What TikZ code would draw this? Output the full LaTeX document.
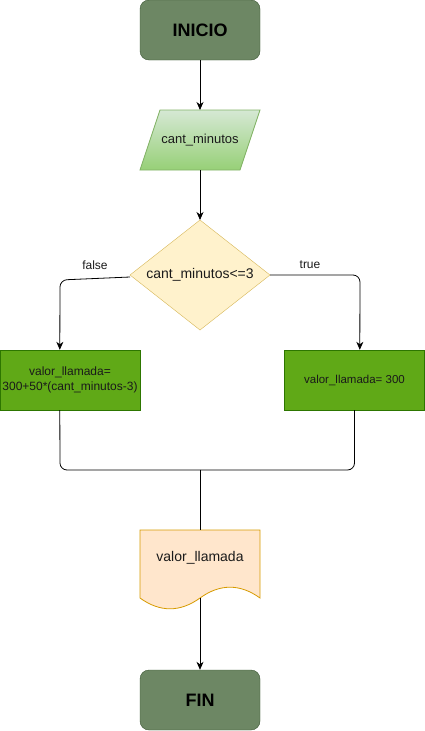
\documentclass[tikz,border=0pt]{standalone}
\usepackage{fontspec}
\setmainfont{Liberation Sans}
\usetikzlibrary{arrows.meta,shapes.geometric,calc}
\definecolor{termfill}{HTML}{6D8764}
\definecolor{termline}{HTML}{3A5431}
\definecolor{parafillA}{HTML}{D5E8D4}
\definecolor{parafillB}{HTML}{97D077}
\definecolor{paraline}{HTML}{82B366}
\definecolor{decfill}{HTML}{FFF2CC}
\definecolor{decline}{HTML}{D6B656}
\definecolor{procfill}{HTML}{60A917}
\definecolor{procline}{HTML}{2D7600}
\definecolor{docfill}{HTML}{FFE6CC}
\definecolor{docline}{HTML}{D79B00}
\definecolor{txt}{HTML}{1A1A1A}
\tikzset{
  term/.style={draw=termline, fill=termfill, rounded corners=9pt, minimum width=120pt, minimum height=60pt, inner sep=0pt, font=\fontsize{18}{20}\selectfont\bfseries, text=black},
  dec/.style={diamond, draw=decline, fill=decfill, minimum width=140pt, minimum height=110pt, inner sep=0.5pt, outer sep=0pt},
  proc/.style={rectangle, draw=procline, fill=procfill, minimum width=140pt, minimum height=60pt, inner sep=0pt, align=center, text=txt},
  edge/.style={draw=black, line width=0.8pt, rounded corners=7pt},
  arr/.style={edge, -{Stealth[length=8pt, width=7pt, inset=2.5pt]}},
  lbl/.style={font=\fontsize{12}{14}\selectfont, text=txt},
}
\begin{document}
\begin{tikzpicture}[x=1pt, y=-1pt]
\useasboundingbox (0,0) rectangle (425,731);

\node[term] (inicio) at (200,30) {INICIO};

% parallelogram
\path[draw=paraline, top color=parafillA, bottom color=parafillB, line width=0.8pt]
  (160,110) -- (260,110) -- (240,170) -- (140,170) -- cycle;
\node[font=\fontsize{13}{15}\selectfont, text=txt] (entrada) at (200,140) {cant\_minutos};
\coordinate (paratop) at (200,110);
\coordinate (parabot) at (200,170);

\node[dec, label={[font=\fontsize{14}{16}\selectfont, text=txt]center:cant\_minutos<=3}] (cond) at (200,275) {};
\node[proc, font=\fontsize{12}{15}\selectfont] (falso) at (70,380) {valor\_llamada=\\300+50*(cant\_minutos-3)};
\node[proc, font=\fontsize{11.5}{14}\selectfont] (verdad) at (354.5,380) {valor\_llamada= 300};

% document shape
\path[draw=docline, fill=docfill, line width=0.8pt]
  (140,530) -- (260,530) -- (260,598)
  .. controls (240,583.6) and (220,583.6) .. (200,598)
  .. controls (180,612.4) and (160,612.4) .. (140,598) -- cycle;
\node[font=\fontsize{14}{16}\selectfont, text=txt] (salida) at (200,558) {valor\_llamada};
\coordinate (doctop) at (200,530);
\coordinate (docbot) at (200,598);

\node[term] (fin) at (200,700) {FIN};

\coordinate (fin1) at ($(falso.north west)+(60,0)$);
\coordinate (ver1) at ($(verdad.north west)+(75.5,0)$);
\coordinate (merge) at (200,470);

\draw[arr] (inicio.south) -- (paratop);
\draw[arr] (parabot) -- (cond.north);
\draw[arr] ($(cond.west)+(0,2)$) -- (60,280) -- (fin1);
\draw[arr] (cond.east) -- (360,275) -- (ver1);
\draw[edge] (falso.south -| fin1) -- (60,470) -- (merge);
\draw[edge] (verdad.south) -- (354.5,470) -- (merge);
\draw[edge] (merge) -- (doctop);
\draw[arr] (docbot) -- (fin.north);

\node[lbl] (lf) at (95,265) {false};
\node[lbl] (lt) at (310,265) {true};
\end{tikzpicture}
\end{document}
